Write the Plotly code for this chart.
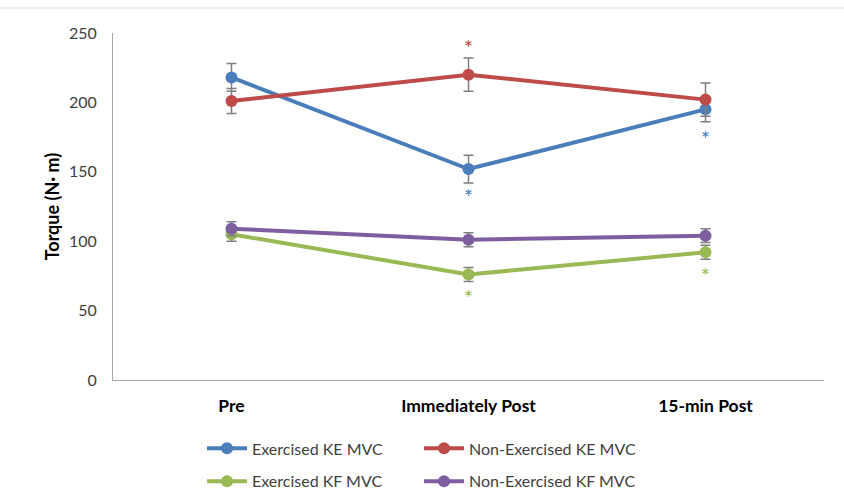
import plotly.graph_objects as go

categories = ["Pre", "Immediately Post", "15-min Post"]

ex_ke = [218, 152, 195]
ex_ke_err = [10, 10, 9]
nonex_ke = [201, 220, 202]
nonex_ke_err = [9, 12, 12]
ex_kf = [105, 76, 92]
ex_kf_err = [5, 5, 5]
nonex_kf = [109, 101, 104]
nonex_kf_err = [5, 5, 5]

# significance asterisks (category, y value)
star_red = (["Immediately Post"], [245])
star_blue = (["Immediately Post", "15-min Post"], [138, 180])
star_green = (["Immediately Post", "15-min Post"], [65, 81])

BLUE = "#4a7ebb"
RED = "#be4b48"
GREEN = "#98b954"
PURPLE = "#7d5fa0"
FONT = "Lato, Open Sans, sans-serif"

fig = go.Figure()

def add_series(name, vals, errs, color, legend):
    fig.add_trace(go.Scatter(
        x=categories, y=vals, name=name, mode="lines+markers",
        line=dict(color=color, width=4),
        marker=dict(color=color, size=12),
        error_y=dict(type="data", array=errs, visible=True,
                     color="#7f7f7f", thickness=1.5, width=5),
        legend=legend,
    ))

add_series("Exercised KE MVC", ex_ke, ex_ke_err, BLUE, "legend")
add_series("Non-Exercised KE MVC", nonex_ke, nonex_ke_err, RED, "legend")
add_series("Exercised KF MVC", ex_kf, ex_kf_err, GREEN, "legend2")
add_series("Non-Exercised KF MVC", nonex_kf, nonex_kf_err, PURPLE, "legend2")

for (xs, ys), color in [(star_red, RED), (star_blue, BLUE), (star_green, GREEN)]:
    fig.add_trace(go.Scatter(
        x=xs, y=ys, mode="text", text=["*"] * len(xs),
        textposition="bottom center",
        textfont=dict(color=color, size=22, family=FONT),
        showlegend=False, hoverinfo="skip",
    ))

legend_common = dict(
    orientation="h", xanchor="left", yanchor="middle",
    entrywidth=162, entrywidthmode="pixels",
    font=dict(family=FONT, size=16, color="#404040"),
    itemwidth=40, bgcolor="rgba(0,0,0,0)",
    tracegroupgap=0,
)

fig.update_layout(
    width=844, height=496,
    margin=dict(l=113, r=20, t=33, b=116, autoexpand=False),
    paper_bgcolor="white", plot_bgcolor="white",
    font=dict(family=FONT, color="#404040"),
    showlegend=True,
    legend=dict(x=0.1252, y=-0.197, yref="paper", **legend_common),
    legend2=dict(x=0.1252, y=-0.292, yref="paper", **legend_common),
    xaxis=dict(
        type="category", range=[-0.5, 2.5],
        showline=True, linecolor="#a6a6a6", linewidth=1,
        ticks="", showgrid=False, zeroline=False,
        ticklabelstandoff=10,
        tickfont=dict(family=FONT, size=17.5, color="#000000", weight="bold"),
    ),
    yaxis=dict(
        range=[0, 250], tickvals=[0, 50, 100, 150, 200, 250],
        showline=True, linecolor="#a6a6a6", linewidth=1,
        ticks="", showgrid=False, zeroline=False,
        ticklabelstandoff=12,
        tickfont=dict(family=FONT, size=16, color="#404040"),
        title=dict(text="Torque (N· m)", standoff=4,
                   font=dict(family=FONT, size=18, color="#000000", weight="bold")),
    ),
    shapes=[dict(type="line", xref="paper", yref="paper",
                 x0=-0.2, x1=1.1, y0=1.072, y1=1.072,
                 line=dict(color="#e0e0e0", width=1))],
)

fig.write_html("out.html", config={"displayModeBar": False},
               post_script="document.body.style.margin='0';")
